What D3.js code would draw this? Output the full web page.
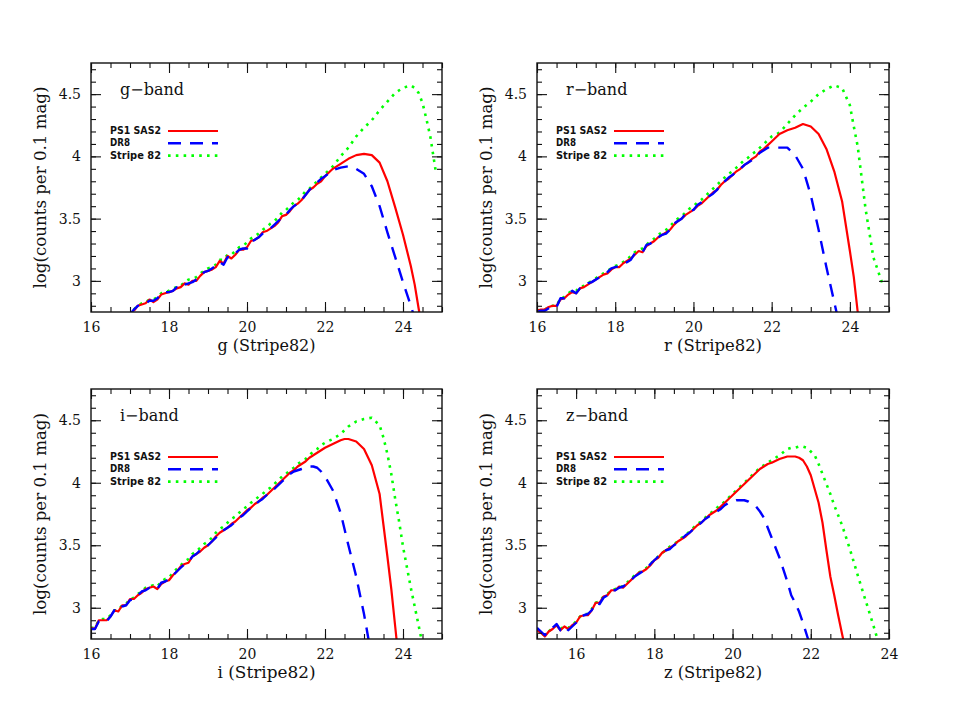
<!DOCTYPE html>
<html><head><meta charset="utf-8">
<script src="https://cdn.jsdelivr.net/npm/d3@7"></script>
<style>body{margin:0;background:#fff}svg{display:block}</style>
</head><body>
<svg id="c" width="969" height="728"></svg>
<script>
// ---------------- DATA ----------------
const seriesNames = ["PS1 SAS2", "DR8", "Stripe 82"];
const yTickValues = [3, 3.5, 4, 4.5];
const yTickLabels = ["3", "3.5", "4", "4.5"];
const xTickValuesGRI = [16, 18, 20, 22, 24];
const xTickValuesZ = [16, 18, 20, 22, 24];

// g band
const gMag = [17.0,17.1,17.2,17.3,17.4,17.5,17.6,17.7,17.8,17.9,
  18.0,18.1,18.2,18.3,18.4,18.5,18.6,18.7,18.8,18.9,
  19.0,19.1,19.2,19.3,19.4,19.5,19.6,19.7,19.8,19.9,
  20.0,20.1,20.2,20.3,20.4,20.5,20.6,20.7,20.8,20.9,
  21.0,21.1,21.2,21.3,21.4,21.5,21.6,21.7,21.8,21.9,
  22.0,22.2,22.4,22.6,22.8,23.0,23.2,23.4,23.6,23.8,24.0,24.2,24.3,24.4,24.5,24.6,24.7,24.8,24.85];
const gPS1 = [null,2.76,2.80,2.81,2.82,2.85,2.83,2.85,2.89,2.90,
  2.91,2.92,2.94,2.95,2.98,2.97,3.00,3.00,3.04,3.07,
  3.08,3.09,3.11,3.16,3.14,3.20,3.18,3.21,3.25,3.25,
  3.27,3.32,3.33,3.35,3.39,3.40,3.42,3.44,3.47,3.52,
  3.53,3.56,3.60,3.62,3.65,3.69,3.73,3.75,3.78,3.80,
  3.84,3.90,3.94,3.98,4.01,4.02,4.01,3.95,3.80,3.59,3.37,3.12,2.97,2.78,2.60,null,null,null,null];
const gDR8 = [2.73,2.77,2.80,2.81,2.82,2.84,2.84,2.86,2.89,2.91,
  2.91,2.92,2.95,2.94,2.97,2.98,2.99,3.01,3.03,3.07,
  3.08,3.10,3.12,3.15,3.13,3.19,3.19,3.22,3.25,3.26,
  3.26,3.31,3.33,3.35,3.38,3.40,3.42,3.45,3.48,3.51,
  3.53,3.57,3.60,3.62,3.65,3.69,3.73,3.76,3.79,3.82,
  3.84,3.89,3.91,3.92,3.90,3.86,3.76,3.60,3.39,3.19,2.99,2.80,2.70,null,null,null,null,null,null];
const gS82 = [null,2.77,2.80,2.82,2.83,2.85,2.85,2.87,2.90,2.91,
  2.92,2.94,2.95,2.96,2.99,3.01,3.02,3.03,3.06,3.08,
  3.10,3.11,3.13,3.17,3.17,3.21,3.21,3.24,3.27,3.28,
  3.31,3.34,3.36,3.38,3.41,3.43,3.46,3.48,3.51,3.55,
  3.57,3.60,3.63,3.65,3.68,3.72,3.74,3.77,3.80,3.83,
  3.86,3.92,4.00,4.07,4.16,4.23,4.29,4.37,4.44,4.51,4.55,4.57,4.55,4.51,4.43,4.30,4.16,3.96,3.86];

// r band
const rMag = [16.0,16.1,16.2,16.3,16.4,16.5,16.6,16.7,16.8,16.9,
  17.0,17.1,17.2,17.3,17.4,17.5,17.6,17.7,17.8,17.9,
  18.0,18.1,18.2,18.3,18.4,18.5,18.6,18.7,18.8,18.9,
  19.0,19.1,19.2,19.3,19.4,19.5,19.6,19.7,19.8,19.9,
  20.0,20.1,20.2,20.3,20.4,20.5,20.6,20.7,20.8,20.9,
  21.0,21.1,21.2,21.3,21.4,21.5,21.6,21.7,21.8,21.9,
  22.0,22.2,22.4,22.6,22.8,23.0,23.2,23.4,23.6,23.8,24.0,24.1,24.2,24.3,24.4,24.6,24.85];
const rPS1 = [2.76,2.77,2.77,2.79,2.80,2.80,2.85,2.86,2.89,2.91,
  2.90,2.94,2.95,2.97,2.99,3.01,3.03,3.05,3.06,3.09,
  3.11,3.11,3.14,3.16,3.18,3.21,3.24,3.23,3.28,3.30,
  3.32,3.35,3.37,3.39,3.41,3.45,3.48,3.50,3.53,3.55,
  3.57,3.60,3.62,3.65,3.68,3.71,3.73,3.77,3.80,3.82,
  3.85,3.88,3.90,3.93,3.95,3.98,4.00,4.04,4.06,4.09,
  4.12,4.18,4.21,4.23,4.26,4.24,4.18,4.06,3.88,3.64,3.24,3.03,2.75,null,null,null,null];
const rDR8 = [2.75,2.76,2.76,2.78,2.80,2.79,2.86,2.86,2.89,2.92,
  2.90,2.94,2.95,2.98,2.99,3.01,3.03,3.05,3.07,3.10,
  3.11,3.12,3.14,3.15,3.17,3.22,3.23,3.23,3.29,3.30,
  3.32,3.35,3.37,3.38,3.41,3.46,3.48,3.50,3.54,3.56,
  3.57,3.61,3.63,3.65,3.68,3.70,3.73,3.78,3.80,3.83,
  3.85,3.88,3.90,3.93,3.95,3.97,4.00,4.03,4.05,4.07,
  4.07,4.07,4.07,4.01,3.90,3.69,3.41,3.11,2.83,2.55,null,null,null,null,null,null,null];
const rS82 = [2.76,2.77,2.77,2.79,2.80,2.80,2.86,2.87,2.90,2.92,
  2.92,2.95,2.96,2.98,3.00,3.02,3.04,3.06,3.08,3.10,
  3.12,3.13,3.15,3.17,3.20,3.23,3.25,3.26,3.29,3.32,
  3.34,3.37,3.39,3.41,3.44,3.47,3.50,3.52,3.55,3.58,
  3.60,3.63,3.65,3.68,3.71,3.74,3.77,3.80,3.83,3.86,
  3.88,3.91,3.94,3.97,3.99,4.02,4.04,4.07,4.10,4.13,
  4.16,4.19,4.26,4.33,4.39,4.44,4.50,4.54,4.57,4.55,4.41,4.24,4.08,3.83,3.58,3.19,2.96];

// i band
const iMag = [16.0,16.1,16.2,16.3,16.4,16.5,16.6,16.7,16.8,16.9,
  17.0,17.1,17.2,17.3,17.4,17.5,17.6,17.7,17.8,17.9,
  18.0,18.1,18.2,18.3,18.4,18.5,18.6,18.7,18.8,18.9,
  19.0,19.1,19.2,19.3,19.4,19.5,19.6,19.7,19.8,19.9,
  20.0,20.1,20.2,20.3,20.4,20.5,20.6,20.7,20.8,20.9,
  21.0,21.1,21.2,21.3,21.4,21.5,21.6,21.7,21.8,21.9,
  22.0,22.2,22.4,22.5,22.6,22.8,23.0,23.2,23.4,23.5,23.6,23.7,23.8,23.9,24.0,24.2,24.4,24.6];
const iPS1 = [2.84,2.83,2.90,2.90,2.90,2.93,2.98,2.97,3.02,3.02,
  3.07,3.07,3.10,3.12,3.15,3.16,3.17,3.15,3.19,3.21,
  3.22,3.26,3.29,3.33,3.35,3.36,3.41,3.43,3.45,3.48,
  3.50,3.53,3.57,3.60,3.62,3.64,3.67,3.69,3.72,3.75,
  3.78,3.80,3.83,3.85,3.88,3.90,3.93,3.96,3.99,4.02,
  4.05,4.08,4.10,4.13,4.15,4.17,4.20,4.22,4.24,4.26,
  4.28,4.31,4.34,4.35,4.35,4.33,4.27,4.14,3.91,3.66,3.41,3.15,2.85,2.55,null,null,null,null];
const iDR8 = [2.83,2.83,2.89,2.90,2.89,2.93,2.98,2.97,3.01,3.02,
  3.06,3.07,3.10,3.13,3.14,3.16,3.16,3.15,3.20,3.21,
  3.23,3.26,3.29,3.32,3.35,3.37,3.41,3.43,3.46,3.48,
  3.50,3.53,3.56,3.60,3.62,3.64,3.66,3.69,3.72,3.74,
  3.77,3.80,3.82,3.85,3.87,3.90,3.93,3.95,3.98,4.01,
  4.04,4.07,4.09,4.10,4.11,4.12,4.13,4.13,4.12,4.09,
  4.05,3.94,3.76,3.63,3.50,3.25,2.95,2.60,null,null,null,null,null,null,null,null,null,null];
const iS82 = [2.84,2.84,2.90,2.91,2.91,2.94,2.98,2.98,3.02,3.03,
  3.07,3.08,3.11,3.13,3.16,3.17,3.18,3.17,3.21,3.23,
  3.24,3.28,3.31,3.34,3.37,3.39,3.43,3.45,3.48,3.51,
  3.53,3.56,3.60,3.63,3.65,3.68,3.71,3.73,3.76,3.79,
  3.81,3.84,3.86,3.89,3.91,3.94,3.96,3.99,4.02,4.05,
  4.07,4.10,4.12,4.15,4.17,4.19,4.22,4.25,4.27,4.30,
  4.32,4.35,4.39,4.42,4.45,4.49,4.51,4.52,4.46,4.36,4.23,4.07,3.87,3.69,3.49,3.16,2.86,2.55];

// z band
const zMag = [15.0,15.1,15.2,15.3,15.4,15.5,15.6,15.7,15.8,15.9,
  16.0,16.1,16.2,16.3,16.4,16.5,16.6,16.7,16.8,16.9,
  17.0,17.1,17.2,17.3,17.4,17.5,17.6,17.7,17.8,17.9,
  18.0,18.1,18.2,18.3,18.4,18.5,18.6,18.7,18.8,18.9,
  19.0,19.1,19.2,19.3,19.4,19.5,19.6,19.7,19.8,19.9,
  20.0,20.1,20.2,20.3,20.4,20.5,20.6,20.7,20.8,20.9,
  21.0,21.2,21.4,21.5,21.6,21.7,21.8,21.9,22.0,22.1,22.2,22.3,22.4,22.5,22.6,22.7,22.8,23.0,23.2,23.4,23.6,23.8];
const zPS1 = [2.82,2.80,2.77,2.81,2.83,2.86,2.82,2.85,2.83,2.86,
  2.88,2.93,2.94,2.94,2.98,3.04,3.04,3.09,3.10,3.14,
  3.14,3.17,3.16,3.19,3.22,3.25,3.28,3.29,3.31,3.34,
  3.38,3.40,3.44,3.46,3.48,3.50,3.53,3.55,3.57,3.60,
  3.63,3.66,3.68,3.71,3.74,3.76,3.78,3.81,3.84,3.87,
  3.90,3.93,3.96,3.99,4.02,4.05,4.08,4.11,4.13,4.15,
  4.16,4.19,4.21,4.21,4.21,4.20,4.18,4.13,4.06,3.95,3.84,3.68,3.46,3.25,3.10,2.94,2.79,2.50,null,null,null,null];
const zDR8 = [2.84,2.81,2.78,2.82,2.84,2.87,2.82,2.85,2.82,2.85,
  2.88,2.92,2.94,2.95,2.98,3.04,3.03,3.08,3.10,3.14,
  3.14,3.16,3.17,3.19,3.22,3.25,3.27,3.29,3.31,3.35,
  3.38,3.41,3.44,3.46,3.47,3.50,3.52,3.55,3.58,3.60,
  3.63,3.66,3.68,3.71,3.73,3.75,3.77,3.79,3.82,3.84,
  3.85,3.86,3.86,3.86,3.85,3.83,3.81,3.77,3.72,3.64,
  3.56,3.40,3.21,3.10,3.04,2.97,2.88,2.78,2.68,null,null,null,null,null,null,null,null,null,null,null,null,null];
const zS82 = [2.83,2.80,2.78,2.81,2.84,2.86,2.83,2.85,2.84,2.86,
  2.89,2.93,2.95,2.95,2.99,3.04,3.05,3.09,3.11,3.14,
  3.15,3.17,3.17,3.20,3.23,3.26,3.28,3.30,3.32,3.35,
  3.38,3.41,3.44,3.46,3.49,3.51,3.53,3.56,3.58,3.61,
  3.64,3.67,3.69,3.72,3.75,3.77,3.80,3.82,3.85,3.88,
  3.91,3.94,3.97,4.00,4.03,4.06,4.09,4.12,4.14,4.16,
  4.18,4.22,4.27,4.28,4.28,4.29,4.29,4.28,4.25,4.22,4.15,4.07,3.99,3.91,3.82,3.74,3.66,3.47,3.26,3.06,2.86,2.65];

// ---------------- DRAWING ----------------
const svg = d3.select("#c");
const SERIF = "'DejaVu Serif', 'Liberation Serif', serif";
const yDomain = [2.75, 4.75];

const panels = [
  {id:"g", band:"g\u2212band", xlabel:"g (Stripe82)", box:[91,63,442,312], xDomain:[16,25], xTicks:xTickValuesGRI, mag:gMag, vals:[gPS1,gDR8,gS82]},
  {id:"r", band:"r\u2212band", xlabel:"r (Stripe82)", box:[537,63,889,312], xDomain:[16,25], xTicks:xTickValuesGRI, mag:rMag, vals:[rPS1,rDR8,rS82]},
  {id:"i", band:"i\u2212band", xlabel:"i (Stripe82)", box:[91,389,442,639], xDomain:[16,25], xTicks:xTickValuesGRI, mag:iMag, vals:[iPS1,iDR8,iS82]},
  {id:"z", band:"z\u2212band", xlabel:"z (Stripe82)", box:[537,389,889,639], xDomain:[15,24], xTicks:xTickValuesZ, mag:zMag, vals:[zPS1,zDR8,zS82]}
];

const styles = [
  {color:"#ff0000", width:2.2, dash:null, textLen:51},
  {color:"#0000ff", width:2.4, dash:"13,9", textLen:20},
  {color:"#00ff00", width:2.6, dash:"2.6,5.2", textLen:51}
];
const drawOrder = [2, 0, 1];

panels.forEach(p => {
  const [L, T, R, B] = p.box;
  const x = d3.scaleLinear().domain(p.xDomain).range([L, R]);
  const y = d3.scaleLinear().domain(yDomain).range([B, T]);
  const g = svg.append("g");

  const clipId = "clip-" + p.id;
  svg.append("clipPath").attr("id", clipId)
    .append("rect").attr("x", L).attr("y", T).attr("width", R - L).attr("height", B - T);

  const curves = g.append("g").attr("clip-path", `url(#${clipId})`);
  drawOrder.forEach(si => {
    const vals = p.vals[si];
    const st = styles[si];
    const line = d3.line()
      .defined((d, i) => vals[i] != null)
      .x((d, i) => x(p.mag[i]))
      .y((d, i) => y(vals[i]));
    curves.append("path")
      .attr("d", line(p.mag))
      .attr("fill", "none")
      .attr("stroke", st.color)
      .attr("stroke-width", st.width)
      .attr("stroke-linejoin", "round")
      .attr("stroke-dasharray", st.dash);
  });

  // minor ticks
  const xMinor = d3.range(p.xDomain[0], p.xDomain[1] + 1e-9, 0.5);
  const yMinor = d3.range(2.8, 4.75 + 1e-9, 0.1).map(v => +v.toFixed(2));

  const axStyle = sel => {
    sel.select(".domain").remove();
    sel.selectAll("line").attr("stroke", "#111").attr("stroke-width", 1.1);
    sel.selectAll("text").attr("font-family", SERIF).attr("font-size", 14).attr("fill", "#111");
  };

  // bottom
  g.append("g").attr("transform", `translate(0,${B})`)
    .call(d3.axisBottom(x).tickValues(xMinor).tickSizeInner(-5).tickSizeOuter(0).tickFormat(""))
    .call(axStyle);
  g.append("g").attr("transform", `translate(0,${B})`)
    .call(d3.axisBottom(x).tickValues(p.xTicks).tickSizeInner(-10).tickSizeOuter(0).tickPadding(10).tickFormat(d3.format("d")))
    .call(axStyle);
  // top
  g.append("g").attr("transform", `translate(0,${T})`)
    .call(d3.axisTop(x).tickValues(xMinor).tickSizeInner(-5).tickSizeOuter(0).tickFormat(""))
    .call(axStyle);
  g.append("g").attr("transform", `translate(0,${T})`)
    .call(d3.axisTop(x).tickValues(p.xTicks).tickSizeInner(-10).tickSizeOuter(0).tickFormat(""))
    .call(axStyle);
  // left
  g.append("g").attr("transform", `translate(${L},0)`)
    .call(d3.axisLeft(y).tickValues(yMinor).tickSizeInner(-5).tickSizeOuter(0).tickFormat(""))
    .call(axStyle);
  g.append("g").attr("transform", `translate(${L},0)`)
    .call(d3.axisLeft(y).tickValues(yTickValues).tickSizeInner(-10).tickSizeOuter(0).tickPadding(10)
      .tickFormat((d, i) => yTickLabels[i]))
    .call(axStyle);
  // right
  g.append("g").attr("transform", `translate(${R},0)`)
    .call(d3.axisRight(y).tickValues(yMinor).tickSizeInner(-5).tickSizeOuter(0).tickFormat(""))
    .call(axStyle);
  g.append("g").attr("transform", `translate(${R},0)`)
    .call(d3.axisRight(y).tickValues(yTickValues).tickSizeInner(-10).tickSizeOuter(0).tickFormat(""))
    .call(axStyle);

  // frame
  g.append("rect").attr("x", L).attr("y", T).attr("width", R - L).attr("height", B - T)
    .attr("fill", "none").attr("stroke", "#111").attr("stroke-width", 1.4);

  // axis labels
  g.append("text").attr("x", (L + R) / 2).attr("y", B + 39)
    .attr("text-anchor", "middle").attr("font-family", SERIF).attr("font-size", 16)
    .attr("textLength", 98).attr("lengthAdjust", "spacingAndGlyphs")
    .attr("fill", "#111").text(p.xlabel);
  g.append("text")
    .attr("transform", `translate(${L - 45},${(T + B) / 2}) rotate(-90)`)
    .attr("text-anchor", "middle").attr("font-family", SERIF).attr("font-size", 16)
    .attr("textLength", 202).attr("lengthAdjust", "spacingAndGlyphs")
    .attr("fill", "#111").text("log(counts per 0.1 mag)");

  // band label
  g.append("text").attr("x", L + 29).attr("y", T + 32)
    .attr("font-family", SERIF).attr("font-size", 16).attr("fill", "#111").text(p.band);

  // legend
  seriesNames.forEach((name, si) => {
    const ly = T + 68 + si * 12.3;
    g.append("text").attr("x", L + 19).attr("y", ly + 3)
      .attr("font-family", "'DejaVu Sans', sans-serif").attr("font-weight", "bold")
      .attr("font-size", 10.5).attr("fill", "#111")
      .attr("textLength", styles[si].textLen).attr("lengthAdjust", "spacingAndGlyphs")
      .text(name);
    g.append("line").attr("x1", L + 77).attr("x2", L + 127).attr("y1", ly).attr("y2", ly)
      .attr("stroke", styles[si].color).attr("stroke-width", styles[si].width)
      .attr("stroke-dasharray", styles[si].dash);
  });
});
</script>
</body></html>
